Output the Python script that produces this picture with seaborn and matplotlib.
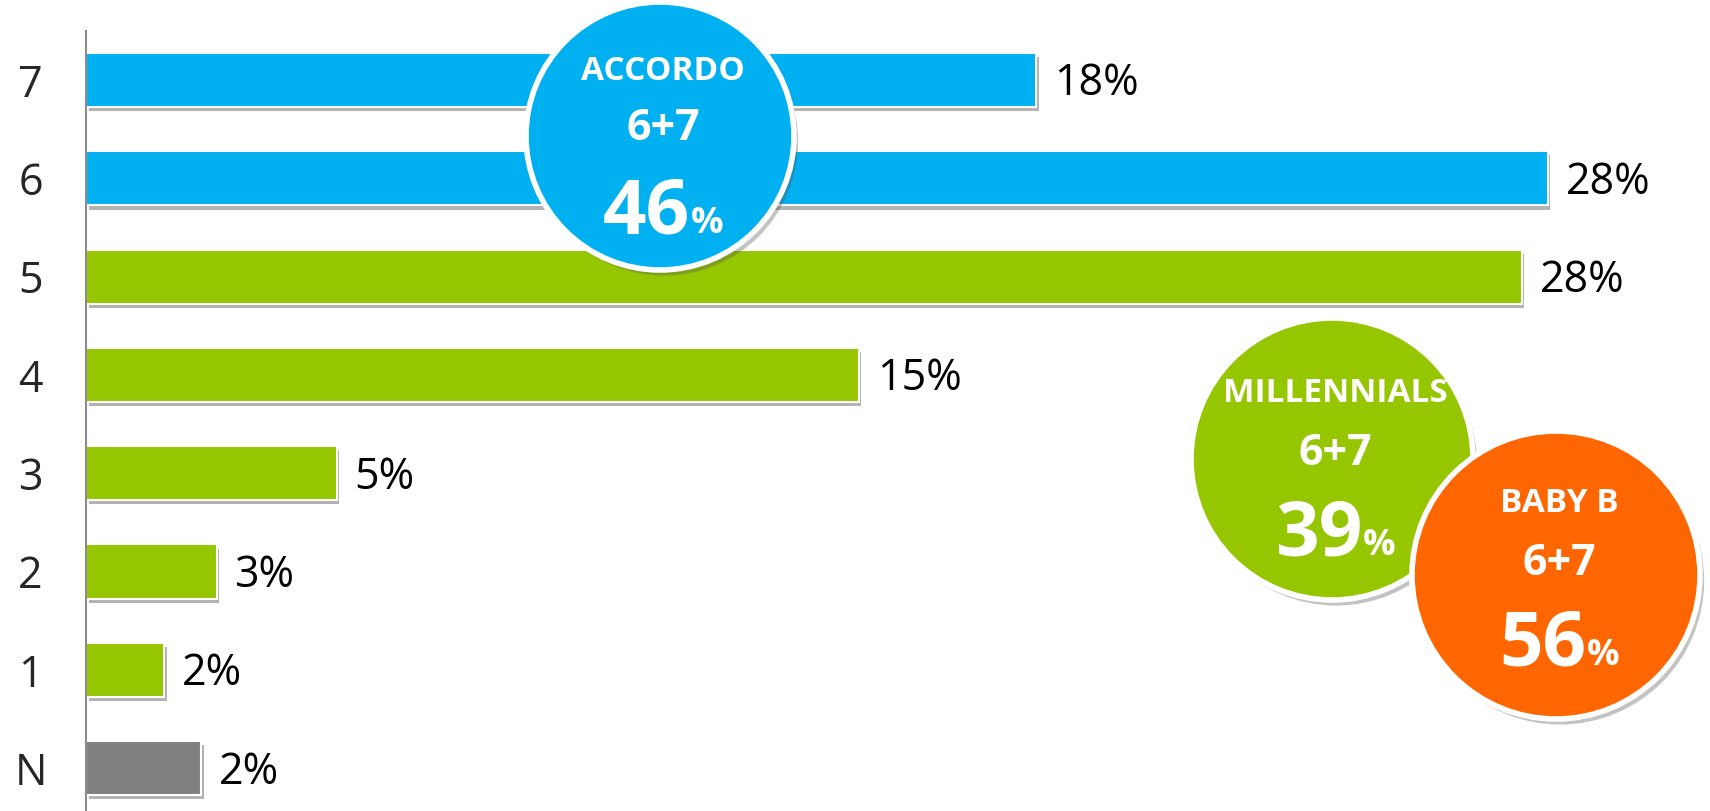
import matplotlib
matplotlib.use("Agg")
import matplotlib.pyplot as plt
import matplotlib.patheffects as pe
from matplotlib.patches import Circle
import seaborn as sns
import pandas as pd

# ---- data ----
categories = ["7", "6", "5", "4", "3", "2", "1", "N"]
values = [18.2, 28.0, 27.5, 14.8, 4.8, 2.5, 1.5, 2.2]
value_labels = ["18%", "28%", "28%", "15%", "5%", "3%", "2%", "2%"]

bubble_titles = ["ACCORDO", "MILLENNIALS", "BABY B"]
bubble_sub = ["6+7", "6+7", "6+7"]
bubble_values = [46, 39, 56]

# ---- colours ----
BLUE = "#00B0F0"
GREEN = "#95C600"
ORANGE = "#FF6600"
GREY = "#808080"
palette = {"7": BLUE, "6": BLUE, "5": GREEN, "4": GREEN, "3": GREEN,
           "2": GREEN, "1": GREEN, "N": GREY}
bubble_colors = [BLUE, GREEN, ORANGE]

df = pd.DataFrame({"cat": categories, "val": values})

sns.set_style("white")
plt.rcParams["font.family"] = ["Open Sans", "DejaVu Sans"]

W, H = 1710, 811
fig = plt.figure(figsize=(W / 100, H / 100), dpi=100)

# main bar axes: left spine at x=86px, top at y=31px
AX_LEFT = 86
ax = fig.add_axes([AX_LEFT / W, 0, 1 - AX_LEFT / W, 1 - 31 / H])
sns.barplot(data=df, y="cat", x="val", hue="cat", palette=palette,
            order=categories, legend=False, width=0.55, orient="h",
            saturation=1, edgecolor="white", linewidth=1.5, ax=ax, zorder=2)

shadow = [pe.SimplePatchShadow(offset=(2, -3), shadow_rgbFace="#555555", alpha=0.45),
          pe.Normal()]
for p in ax.patches:
    p.set_path_effects(shadow)

for cont, lab in zip(ax.containers, value_labels):
    anns = ax.bar_label(cont, labels=[lab], padding=13, fontsize=31, color="black")
    for a in anns:
        a.xyann = (13, -3)

ax.set_xlim(0, (W - AX_LEFT) / 52.2)
ax.set_ylim(7.436, -0.4985)
ax.set_xlabel("")
ax.set_ylabel("")
ax.set_xticks([])
ax.tick_params(axis="y", length=0, pad=40, labelsize=31)
for t in ax.get_yticklabels():
    t.set_horizontalalignment("center")
for s in ["top", "right", "bottom"]:
    ax.spines[s].set_visible(False)
ax.spines["left"].set_color("#8c8c8c")
ax.spines["left"].set_linewidth(1.5)

# ---- overlay for the summary bubbles (pixel coordinates) ----
ov = fig.add_axes([0, 0, 1, 1], zorder=5)
ov.set_xlim(0, W)
ov.set_ylim(H, 0)
ov.axis("off")
ov.patch.set_alpha(0)

# layout: centre x, centre y, radius, title baseline, sub baseline, value baseline
layout = [
    (660, 136, 134, 80, 140, 233),
    (1332, 459, 141, 402, 465, 555),
    (1556, 575, 144, 512, 575, 665),
]
circle_shadow = [pe.SimplePatchShadow(offset=(3, -4), shadow_rgbFace="#555555", alpha=0.35),
                 pe.Normal()]

for i in [1, 2, 0]:
    cx, cy, r, yt, ys, yv = layout[i]
    c = Circle((cx, cy), r, facecolor=bubble_colors[i], edgecolor="white",
               linewidth=4, zorder=1)
    c.set_path_effects(circle_shadow)
    ov.add_patch(c)
    ov.text(cx + 3, yt, bubble_titles[i], ha="center", va="baseline", color="white",
            fontsize=24, fontweight="bold")
    ov.text(cx + 3, ys, bubble_sub[i], ha="center", va="baseline", color="white",
            fontsize=31, fontweight="bold")
    ov.text(cx + 30, yv, str(bubble_values[i]), ha="right", va="baseline",
            color="white", fontsize=55, fontweight="bold")
    ov.text(cx + 31, yv, "%", ha="left", va="baseline", color="white",
            fontsize=26, fontweight="bold")

fig.savefig("out.png", dpi=100, facecolor="white")
